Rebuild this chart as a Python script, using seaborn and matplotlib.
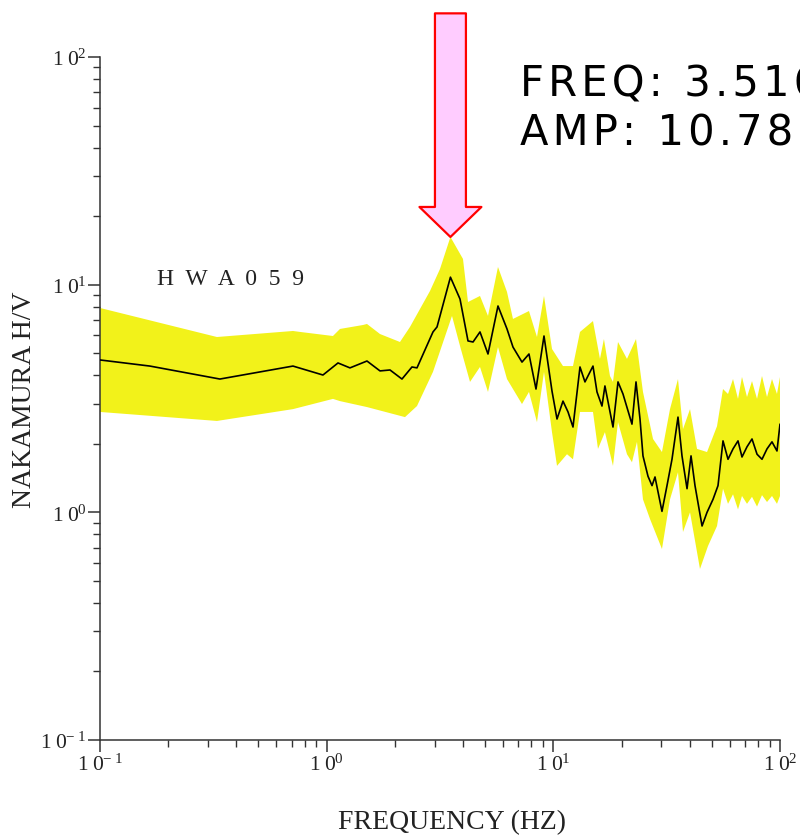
import numpy as np
import pandas as pd
import matplotlib
matplotlib.use("Agg")
import matplotlib.pyplot as plt
import seaborn as sns
from matplotlib.ticker import LogLocator, FuncFormatter, NullFormatter

# ---------------- data ----------------
station = "H  W  A  0  5  9"
x_label = "FREQUENCY (HZ)"
y_label = "NAKAMURA H/V"
peak_freq = 3.516
peak_amp = 10.788
peak_upper = 16.2

mean_freq = [0.1, 0.166, 0.338, 0.710, 0.963, 1.122, 1.267, 1.506, 1.719, 1.903,
             2.149, 2.379, 2.503, 2.945, 3.068, 3.516, 3.875, 4.203, 4.423, 4.747,
             5.149, 5.699, 6.246, 6.637, 7.273, 7.808, 8.385, 9.095, 9.865, 10.38,
             11.03, 11.61, 12.21, 13.11, 13.79, 14.96, 15.58, 16.39, 16.89, 18.33,
             19.29, 20.29, 22.23, 23.16, 24.12, 24.86, 26.16, 27.25, 28.09, 30.15,
             31.73, 33.38, 35.48, 36.95, 38.89, 40.50, 42.17, 45.30, 47.65, 50.63,
             53.27, 56.05, 58.97, 62.05, 65.27, 67.97, 71.52, 75.25, 79.19, 83.29,
             87.64, 92.19, 96.98, 100.0]
mean_amp = [4.67, 4.39, 3.85, 4.39, 4.01, 4.53, 4.31, 4.62, 4.18, 4.22,
            3.85, 4.35, 4.31, 6.20, 6.52, 10.788, 8.65, 5.66, 5.60, 6.20,
            4.96, 8.06, 6.39, 5.32, 4.57, 4.96, 3.48, 5.95, 3.41, 2.57,
            3.08, 2.76, 2.37, 4.35, 3.74, 4.39, 3.38, 2.93, 3.59, 2.37,
            3.74, 3.31, 2.44, 3.74, 2.57, 1.77, 1.44, 1.31, 1.43, 1.01,
            1.31, 1.71, 2.62, 1.77, 1.27, 1.77, 1.31, 0.871, 1.00, 1.14,
            1.31, 2.06, 1.71, 1.90, 2.06, 1.75, 1.94, 2.10, 1.80, 1.71,
            1.90, 2.04, 1.86, 2.44]

upper_freq = [0.1, 0.328, 0.710, 0.763, 1.066, 1.145, 1.446, 1.506, 1.719, 2.106,
              2.331, 2.857, 3.162, 3.516, 3.994, 4.203, 4.747, 5.149, 5.699, 6.246,
              6.637, 7.808, 8.47, 9.095, 9.865, 11.03, 12.21, 13.11, 14.96, 16.06,
              16.72, 17.78, 18.33, 19.29, 21.13, 23.16, 24.86, 27.53, 30.15, 32.71,
              35.48, 37.33, 40.09, 43.04, 47.65, 52.74, 56.05, 58.97, 62.05, 65.27,
              67.97, 71.52, 75.25, 79.19, 83.29, 87.64, 92.19, 96.98, 100.0]
upper_amp = [7.90, 5.89, 6.26, 6.20, 5.95, 6.39, 6.65, 6.72, 6.07, 5.60,
             6.52, 9.38, 11.72, 16.2, 12.97, 8.39, 8.92, 7.29, 11.96, 9.29,
             7.07, 7.66, 5.89, 8.92, 5.22, 4.39, 4.39, 6.20, 6.92, 4.72,
             5.77, 3.97, 3.74, 5.60, 4.72, 5.77, 3.38, 2.10, 1.84, 2.84,
             3.85, 2.32, 2.84, 1.90, 1.84, 2.39, 3.48, 3.31, 3.85, 3.15,
             3.93, 3.21, 3.77, 3.15, 3.97, 3.21, 3.85, 3.31, 3.93]

lower_freq = [0.1, 0.328, 0.710, 1.066, 1.145, 1.506, 2.216, 2.503, 2.945, 3.572,
              3.875, 4.290, 4.747, 5.149, 5.699, 6.246, 7.273, 7.808, 8.47, 9.095,
              9.865, 10.38, 11.49, 12.21, 13.11, 14.96, 15.74, 16.89, 18.33, 19.29,
              21.13, 22.23, 23.39, 24.86, 26.70, 30.15, 32.71, 35.48, 37.33, 40.09,
              44.36, 48.12, 52.74, 56.05, 58.97, 62.05, 65.27, 67.97, 71.52, 75.25,
              79.19, 83.29, 87.64, 92.19, 96.98, 100.0]
lower_amp = [2.76, 2.52, 2.84, 3.15, 3.08, 2.90, 2.62, 2.93, 4.14, 7.29,
             5.38, 3.74, 4.35, 3.38, 5.32, 3.85, 2.99, 3.38, 2.49, 4.14,
             2.25, 1.60, 1.80, 1.71, 2.76, 2.76, 1.90, 2.25, 1.60, 2.49,
             1.80, 1.66, 2.04, 1.14, 0.935, 0.690, 1.14, 1.50, 0.820, 1.00,
             0.564, 0.711, 0.871, 1.27, 1.09, 1.20, 1.03, 1.18, 1.09, 1.17,
             1.06, 1.19, 1.11, 1.18, 1.09, 1.18]

x_limits = [0.1, 100]
y_limits = [0.1, 100]

# ---------------- style ----------------
sns.set_theme(style="ticks")
plt.rcParams["font.family"] = ["Liberation Serif", "DejaVu Sans"]
plt.rcParams["mathtext.fontset"] = "custom"
plt.rcParams["mathtext.rm"] = "Liberation Serif"
plt.rcParams["mathtext.it"] = "Liberation Serif:italic"
plt.rcParams["mathtext.bf"] = "Liberation Serif:bold"

axis_col = "#333333"
band_col = "#F2F21A"

fig = plt.figure(figsize=(8, 8.37), dpi=100)
ax = fig.add_axes([0.125, 0.1147, 0.85, 0.816])
ax.set_xscale("log")
ax.set_yscale("log")

# yellow band (upper edge then lower edge reversed)
band_x = np.concatenate([upper_freq, lower_freq[::-1]])
band_y = np.concatenate([upper_amp, lower_amp[::-1]])
ax.fill(band_x, band_y, color=band_col, lw=0, zorder=1)

df = pd.DataFrame({"freq": mean_freq, "amp": mean_amp})
sns.lineplot(data=df, x="freq", y="amp", ax=ax, color="black", lw=1.2,
             sort=False, estimator=None, zorder=3)

ax.set_xlim(*x_limits)
ax.set_ylim(*y_limits)


def dec_fmt(v, pos):
    e = int(round(np.log10(v)))
    s = r"-\;%d" % abs(e) if e < 0 else "%d" % e
    return r"$\mathregular{1\;0^{%s}}$" % s


for axis in (ax.xaxis, ax.yaxis):
    axis.set_major_locator(LogLocator(base=10, numticks=10))
    axis.set_minor_locator(LogLocator(base=10, subs=np.arange(2, 10), numticks=100))
    axis.set_major_formatter(FuncFormatter(dec_fmt))
    axis.set_minor_formatter(NullFormatter())

ax.tick_params(which="major", direction="out", length=8.6, width=1.1,
               color=axis_col, labelsize=15.5, labelcolor="#222222", pad=1)
ax.tick_params(which="minor", direction="out", length=5, width=1.0, color=axis_col)

sns.despine(ax=ax)
for s in ("left", "bottom"):
    ax.spines[s].set_color(axis_col)
    ax.spines[s].set_linewidth(1.1)

ax.set_xlabel(x_label, fontsize=20, color="#222222")
ax.set_ylabel(y_label, fontsize=20, color="#222222")
ax.xaxis.set_label_coords(0.518, -0.101)
ax.yaxis.set_label_coords(-0.093, 0.5)

ax.text(0.084, 0.668, station, transform=ax.transAxes, fontsize=17,
        va="baseline", ha="left", color="#222222")

# arrow pointing at the peak
ax.annotate("", xy=(peak_freq, peak_upper), xycoords="data",
            xytext=(0, 161), textcoords="offset points", annotation_clip=False,
            arrowprops=dict(arrowstyle="simple,head_length=21.6,head_width=44.6,tail_width=22.3",
                            mutation_scale=1, fc="#FFCCFF", ec="#FF0000", lw=1.6,
                            shrinkA=0, shrinkB=0))


def spaced(t):
    return "\u200a".join(t)


fig.text(0.65, 1 - 97 / 837, spaced("FREQ: %.3f" % peak_freq), fontsize=30,
         family="DejaVu Sans", va="baseline", ha="left", color="black")
fig.text(0.65, 1 - 145 / 837, spaced("AMP: %.3f" % peak_amp), fontsize=30,
         family="DejaVu Sans", va="baseline", ha="left", color="black")

fig.savefig("out.png", dpi=100)
